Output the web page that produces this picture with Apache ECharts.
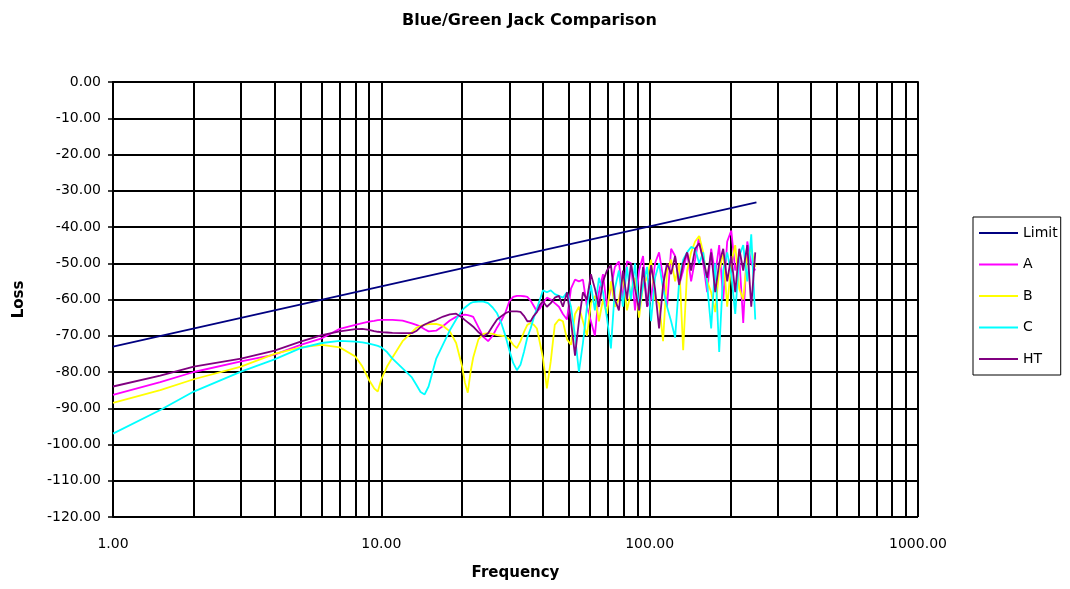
<!DOCTYPE html>
<html>
<head>
<meta charset="utf-8">
<script src="https://cdn.jsdelivr.net/npm/echarts@6/dist/echarts.min.js"></script>
<style>
  html, body { margin: 0; padding: 0; background: #fff; }
  #chart { width: 1070px; height: 589px; }
</style>
</head>
<body>
<div id="chart"></div>
<script>
// frequency grid (Hz) shared by the measured curves
var lowFreq = [1, 1.5, 2, 3, 4, 5, 6, 7, 8, 8.5, 9, 9.4, 9.7, 10, 10.5, 11, 12, 13, 13.5, 14, 14.5, 15, 16, 17,
    18, 19, 20, 20.5, 21, 21.5, 22, 23, 24, 25, 26, 27, 28, 29, 30, 31, 32, 33, 34, 35, 36, 37, 38, 39];
var highFreq = [40, 41.4, 42.8, 44.3, 45.9, 47.5, 49.2, 50.9, 52.7, 54.5,
    56.4, 58.4, 60.4, 62.5, 64.7, 67.0, 69.3, 71.7, 74.2, 76.8,
    79.5, 82.3, 85.2, 88.2, 91.3, 94.5, 97.8, 101.2, 104.7, 108.4,
    112.2, 116.1, 120.2, 124.4, 128.8, 133.3, 137.9, 142.7, 147.7, 152.9,
    158.3, 163.8, 169.5, 175.5, 181.6, 188.0, 194.5, 201.4, 208.4, 215.7,
    223.2, 231.1, 239.1, 247.5];

// Limit line (straight on the log axis)
var limitFreq = [1, 10, 100, 250];
var limitLoss = [-73, -56.4, -39.8, -33.2];

var lossA = [-86.3, -82.8, -80, -77.1, -75.2, -72.5, -70.7, -68.1, -67, -66.5, -66.1, -65.9, -65.7, -65.6, -65.6, -65.6,
    -65.8, -66.6, -67, -67.5, -68.2, -68.8, -68.6, -67.3, -65.8, -64.8, -64.3, -64.2, -64.3, -64.5, -64.8, -67.6,
    -70.3, -71.5, -70, -67.7, -65.8, -63.6, -60.5, -59.3, -59, -59, -59.1, -59.3, -60.3, -61.8, -63.3, -62.5,
    -61, -59.5, -60, -61, -62, -64, -65.5, -57, -54.5, -55,
    -54.5, -62, -66, -70, -58, -53, -62, -57, -51, -49.5,
    -60, -49.5, -50, -63, -52, -48, -62, -60, -50, -47,
    -54, -62, -46, -48, -56, -52, -47, -55, -49, -42.5,
    -50, -58, -46, -53, -45, -60, -44, -41, -52, -48,
    -66.5, -44, -50, -52];

var lossB = [-88.5, -85, -82, -78.5, -75, -73.2, -72.5, -73.2, -75.7, -78.5, -82.2, -84.5, -85.4, -82, -78.5, -76,
    -71.5, -69, -67.8, -67.3, -67, -66.8, -66.7, -67.3, -68.8, -72, -78.5, -83, -85.7, -80, -76, -71,
    -69.5, -69.3, -69.5, -69.8, -70, -70.2, -71, -72.5, -73.4, -71.5, -69, -67, -66.5, -67, -68, -72,
    -76, -84.5, -77, -67, -65.5, -66, -71, -72.5, -64, -62,
    -66, -70, -61, -59, -66, -60, -64, -55, -62, -60,
    -53, -63, -58, -54, -65, -56, -54, -49, -60, -61,
    -71.5, -52, -49, -55, -50, -74, -52, -47, -44, -42.5,
    -47, -55, -58, -63.5, -52, -47, -62, -50, -45, -57,
    -60, -48, -46, -51];

var lossC = [-97, -90.5, -85.4, -79.9, -76.5, -73.4, -72, -71.4, -71.6, -71.8, -72.2, -72.5, -72.8, -73.2, -74.5, -76.3,
    -79, -81.5, -83.5, -85.5, -86.2, -84, -76.4, -72.3, -68.5, -65.5, -63, -62.2, -61.6, -61, -60.7, -60.6,
    -60.6, -61, -62.2, -63.8, -66.5, -70, -74, -77.5, -79.5, -78, -74.5, -70.5, -68, -65, -62.5, -60,
    -57.5, -58, -57.5, -58.5, -59, -59.5, -58, -62, -70, -80,
    -72, -62, -56, -63, -54, -58, -65, -73.5, -57, -52,
    -62, -51, -60, -50, -63, -56, -51, -66, -54, -50,
    -57, -62, -66, -70.5, -55, -49, -47, -45.5, -46, -50,
    -47, -56, -68, -50, -74.5, -52, -47, -53, -64, -48,
    -45, -55, -42, -65.5];

var lossHT = [-84, -81, -78.5, -76.3, -74.1, -71.6, -69.8, -68.8, -68.2, -68.1, -68.4, -68.7, -68.9, -69, -69.1, -69.2,
    -69.3, -69.3, -68.7, -67.6, -66.9, -66.4, -65.6, -64.7, -64.1, -63.9, -65, -65.7, -66.3, -66.9, -67.5, -69,
    -70.2, -69.3, -67.3, -65.5, -64.6, -63.8, -63.3, -63.3, -63.3, -63.4, -64.5, -66, -66, -64.5, -63.5, -61.5,
    -60.5, -62, -61, -59.5, -59, -62, -58, -66, -75.5, -66,
    -58, -60, -53, -57, -62, -55, -52, -50.5, -60, -63,
    -52, -60, -50, -57, -63, -51, -62, -50.5, -57, -68,
    -56, -50, -53, -48, -56, -50, -47, -52, -46, -44.5,
    -49, -54, -47, -58, -50, -46, -55, -48, -58, -46,
    -52, -45, -62, -47];

var seriesNames = ['Limit', 'A', 'B', 'C', 'HT'];
var seriesColors = ['#000080', '#ff00ff', '#ffff00', '#00ffff', '#800080'];

// vertical grid lines between decades
var minorFreq = [2, 3, 4, 5, 6, 7, 8, 9, 20, 30, 40, 50, 60, 70, 80, 90, 200, 300, 400, 500, 600, 700, 800, 900];

var FONT = 'DejaVu Sans';
var GRID_LINE = { color: '#000', width: 2 };

function pairs(xs, ys) {
    return xs.map(function(x, i) { return [x, ys[i]]; });
}

var freq = lowFreq.concat(highFreq);
var lossData = [pairs(limitFreq, limitLoss), pairs(freq, lossA), pairs(freq, lossB), pairs(freq, lossC), pairs(freq, lossHT)];

var series = seriesNames.map(function(name, i) {
    var s = {
        name: name,
        type: 'line',
        data: lossData[i],
        symbol: 'none',
        showSymbol: false,
        color: seriesColors[i],
        lineStyle: { width: 1.8, color: seriesColors[i] },
        z: 3 + i
    };
    if (i === 0) {
        s.markLine = {
            silent: true,
            symbol: ['none', 'none'],
            label: { show: false },
            lineStyle: { color: GRID_LINE.color, width: GRID_LINE.width, type: 'solid' },
            data: minorFreq.map(function(f) { return { xAxis: f }; }),
            z: 1
        };
    }
    return s;
});

var chart = echarts.init(document.getElementById('chart'), null, { renderer: 'canvas' });
chart.setOption({
    animation: false,
    backgroundColor: '#fff',
    textStyle: { fontFamily: FONT },
    title: {
        text: 'Blue/Green Jack Comparison',
        left: 397, top: 8,
        textStyle: { fontSize: 16, fontWeight: 'bold', color: '#000', fontFamily: FONT }
    },
    grid: { left: 113, right: 152, top: 82, bottom: 72 },
    legend: {
        orient: 'vertical',
        left: 973, top: 217,
        data: seriesNames,
        icon: 'rect',
        itemWidth: 39, itemHeight: 2, itemGap: 17.5, itemTextGap: 4,
        padding: [9, 3, 9, 6],
        borderColor: '#000', borderWidth: 1,
        backgroundColor: '#fff',
        textStyle: { fontSize: 14, lineHeight: 14, color: '#000', fontFamily: FONT }
    },
    xAxis: {
        type: 'log', logBase: 10, min: 1, max: 1000,
        name: 'Frequency', nameLocation: 'middle', nameGap: 49,
        nameTextStyle: { fontSize: 15, fontWeight: 'bold', color: '#000', fontFamily: FONT },
        axisLine: { show: true, lineStyle: GRID_LINE },
        axisTick: { show: false },
        axisLabel: {
            margin: 20, fontSize: 14, color: '#000', fontFamily: FONT,
            formatter: function(v) { return v.toFixed(2); }
        },
        splitLine: { show: true, lineStyle: GRID_LINE },
        minorTick: { show: false },
        minorSplitLine: { show: false }
    },
    yAxis: {
        type: 'value', min: -120, max: 0, interval: 10,
        name: 'Loss', nameLocation: 'middle', nameGap: 86, nameRotate: 90,
        nameTextStyle: { fontSize: 15, fontWeight: 'bold', color: '#000', fontFamily: FONT },
        axisLine: { show: true, lineStyle: GRID_LINE },
        axisTick: { show: true, length: 5, lineStyle: { color: '#000', width: 1.5 } },
        axisLabel: {
            margin: 12, fontSize: 14, color: '#000', fontFamily: FONT,
            formatter: function(v) { return v.toFixed(2); }
        },
        splitLine: { show: true, lineStyle: GRID_LINE }
    },
    series: series
});
</script>
</body>
</html>
